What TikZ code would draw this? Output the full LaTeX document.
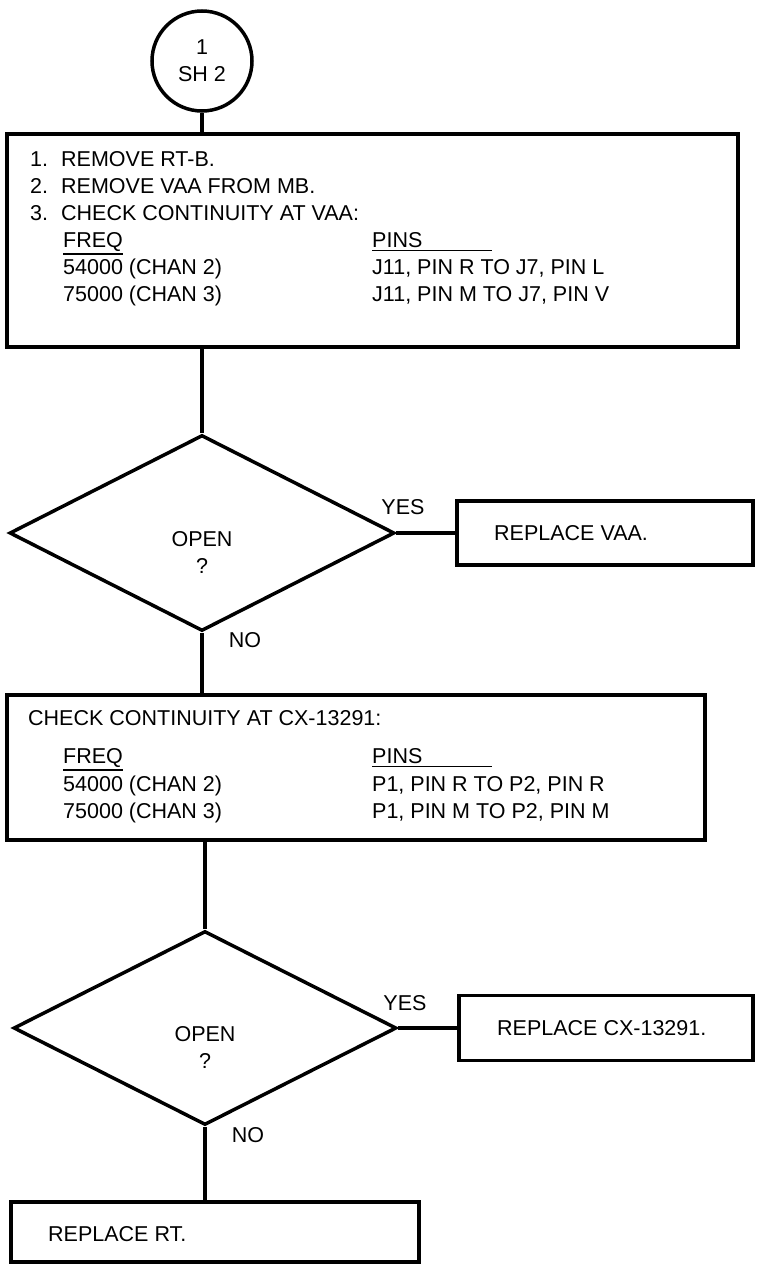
\documentclass[tikz,border=0pt]{standalone}
\usepackage{fontspec}
\setmainfont{Liberation Sans}
\usetikzlibrary{shapes.geometric}

\begin{document}
\begin{tikzpicture}[
        x=1pt, y=-1pt,
        caixa/.style={rectangle, draw, line width=3.5pt, inner sep=0pt},
        losango/.style={diamond, draw, line width=3.5pt, inner sep=0pt, minimum width=385pt, minimum height=196pt},
        conector/.style={circle, draw, line width=3.5pt, minimum size=100pt, inner sep=0pt, align=center},
        texto/.style={anchor=base west, inner sep=0pt},
        pergunta/.style={align=center, inner sep=0pt},
        linha/.style={line width=3.5pt},
        regua/.style={line width=1.6pt},
        every node/.style={font=\fontsize{21.5}{27}\selectfont}
    ]

        \useasboundingbox (0,0) rectangle (756,1264);

        % ==================================================
        % INICIO
        % ==================================================

        \node[conector] (c1) at (202,61) {1\\SH 2};

        \node[caixa, minimum width=731pt, minimum height=213pt] (b1) at (372.5,240.5) {};
        \node[texto] (i1) at (30,166) {1.};
        \node[texto] (i2) at (30,193) {2.};
        \node[texto] (i3) at (30,220) {3.};
        \node[texto] (l1) at (61,166) {REMOVE RT-B.};
        \node[texto] (l2) at (61,193) {REMOVE VAA FROM MB.};
        \node[texto] (l3) at (61,220) {CHECK CONTINUITY AT VAA:};

        % Tabela de VAA
        \node[texto] (f1) at (63,247) {FREQ};
        \node[texto] (p1) at (372,247) {PINS};
        \node[texto] (f2) at (63,274) {54000 (CHAN 2)};
        \node[texto] (p2) at (372,274) {J11, PIN R TO J7, PIN L};
        \node[texto] (f3) at (63,301) {75000 (CHAN 3)};
        \node[texto] (p3) at (372,301) {J11, PIN M TO J7, PIN V};
        \draw[regua] ([yshift=-3pt]f1.south west) -- ([yshift=-3pt]f1.south east);
        \draw[regua] ([yshift=-3pt]p1.south west) -- ++(120,0);

        % ==================================================
        % PRIMEIRA DECISAO
        % ==================================================

        \node[losango] (d1) at (202,533) {};
        \node[pergunta] (q1) at ([yshift=-19pt]d1.center) {OPEN\\?};
        \node (s1) at (403,507) {YES};
        \node (n1) at (245,640) {NO};

        \node[caixa, minimum width=296pt, minimum height=64pt] (r1) at (605,533) {};
        \node[texto, anchor=west] (t1) at (494,533) {REPLACE VAA.};

        \node[caixa, minimum width=698pt, minimum height=145pt] (b2) at (356,767.5) {};
        \node[texto] (l4) at (28,725) {CHECK CONTINUITY AT CX-13291:};

        % Tabela de CX-13291
        \node[texto] (f4) at (63,763) {FREQ};
        \node[texto] (p4) at (372,763) {PINS};
        \node[texto] (f5) at (63,791) {54000 (CHAN 2)};
        \node[texto] (p5) at (372,791) {P1, PIN R TO P2, PIN R};
        \node[texto] (f6) at (63,818) {75000 (CHAN 3)};
        \node[texto] (p6) at (372,818) {P1, PIN M TO P2, PIN M};
        \draw[regua] ([yshift=-3pt]f4.south west) -- ([yshift=-3pt]f4.south east);
        \draw[regua] ([yshift=-3pt]p4.south west) -- ++(120,0);

        % ==================================================
        % SEGUNDA DECISAO
        % ==================================================

        \node[losango, minimum width=383pt, minimum height=194pt] (d2) at (205,1028) {};
        \node[pergunta] (q2) at ([yshift=-19pt]d2.center) {OPEN\\?};
        \node (s2) at (405,1003) {YES};
        \node (n2) at (248,1135) {NO};

        \node[caixa, minimum width=294pt, minimum height=65pt] (r2) at (606,1028) {};
        \node[texto, anchor=west] (t2) at (497,1028) {REPLACE CX-13291.};

        \node[caixa, minimum width=408pt, minimum height=60pt] (b3) at (215,1232) {};
        \node[texto, anchor=west] (t3) at (48,1234) {REPLACE RT.};

        % Linhas
        \draw[linha] (c1) -- (c1 |- b1.north);
        \draw[linha] (d1 |- b1.south) -- (d1);
        \draw[linha] (d1.east) -- (r1.west);
        \draw[linha] (d1) -- (d1 |- b2.north);
        \draw[linha] (d2 |- b2.south) -- (d2);
        \draw[linha] (d2.east) -- (r2.west);
        \draw[linha] (d2) -- (d2 |- b3.north);
    \end{tikzpicture}
\end{document}
